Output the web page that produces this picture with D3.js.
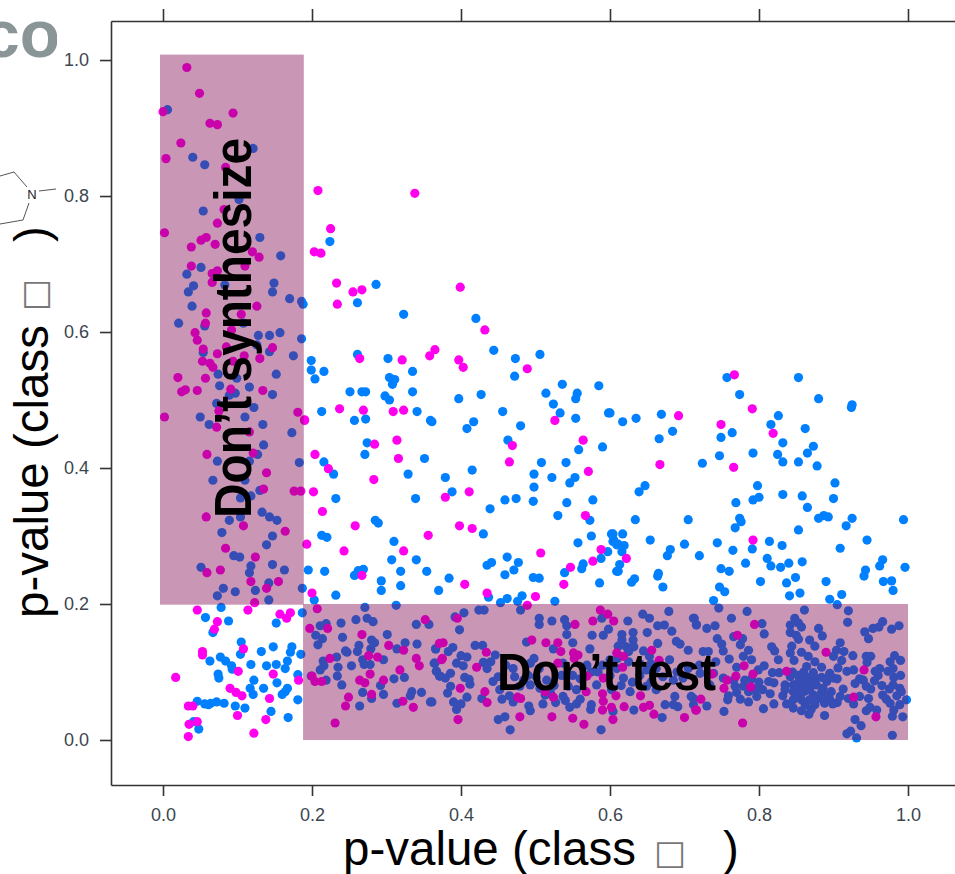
<!DOCTYPE html>
<html>
<head>
<meta charset="utf-8">
<script src="https://cdn.jsdelivr.net/npm/d3@7"></script>
<style>
  body { margin: 0; background: #fff; }
  svg { display: block; font-family: "Liberation Sans", Arial, sans-serif; }
  .tick text { fill: #3c4650; font-size: 18px; }
  .tick line, .domain { stroke: #333; stroke-width: 1.6px; }
</style>
</head>
<body>
<div id="chart"></div>
<script>
var svgWidth = 955;
var svgHeight = 874;

var tickValues = [0, 0.2, 0.4, 0.6, 0.8, 1.0];
var bandSynthesize = { x: [-0.004, 0.189], y: [0.199, 1.008], label: "Don\u2019t synthesize" };
var bandTest = { x: [0.188, 1.0], y: [0, 0.2], label: "Don\u2019t test" };

// points, [p-value x, p-value y]
// blue: upper white area
var blueUpper = [[.224,.733],[.286,.670],[.261,.643],[.323,.626],[.420,.620],[.261,.567],[.302,.561],[.199,.558],[.199,.544],[.216,.542],[.204,.531],[.335,.542],[.444,.573],[.473,.561],[.506,.567],[.472,.535],[.304,.533],[.311,.530],[.308,.523],[.251,.512],[.267,.512],[.272,.512],[.335,.512],[.298,.506],[.304,.500],[.397,.502],[.427,.508],[.213,.483],[.257,.470],[.272,.472],[.341,.483],[.359,.470],[.361,.468],[.417,.468],[.408,.458],[.456,.483],[.480,.462],[.514,.510],[.536,.523],[.556,.510],[.554,.502],[.524,.494],[.533,.481],[.554,.473],[.585,.521],[.598,.481],[.463,.441],[.274,.437],[.271,.420],[.558,.427],[.590,.431],[.351,.414],[.216,.409],[.229,.391],[.508,.408],[.541,.408],[.415,.397],[.329,.391],[.379,.386],[.498,.391],[.522,.386],[.553,.386],[.546,.378],[.498,.372],[.388,.365],[.232,.355],[.339,.355],[.459,.353],[.474,.355],[.497,.351],[.542,.349],[.577,.353],[.439,.340],[.285,.323],[.289,.319],[.530,.330],[.573,.323],[.213,.301],[.220,.298],[.310,.292],[.430,.303],[.557,.290],[.575,.300],[.602,.303],[.604,.292],[.609,.287],[.597,.277],[.462,.269],[.307,.265],[.340,.265],[.441,.261],[.435,.257],[.477,.261],[.588,.267],[.564,.259],[.562,.252],[.195,.250],[.217,.248],[.319,.248],[.354,.248],[.269,.251],[.262,.249],[.257,.242],[.459,.243],[.471,.250],[.539,.246],[.497,.239],[.505,.238],[.384,.238],[.609,.248],[.293,.234],[.319,.227],[.293,.220],[.370,.220],[.586,.231],[.232,.213],[.203,.206],[.437,.210],[.462,.208],[.482,.212],[.526,.204]];
// blue: right part of the upper area
var blueRight = [[.757,.533],[.853,.533],[.774,.508],[.880,.502],[.925,.493],[.924,.489],[.669,.479],[.635,.473],[.617,.468],[.600,.481],[.826,.477],[.816,.464],[.862,.458],[.684,.454],[.666,.443],[.764,.452],[.749,.445],[.832,.437],[.873,.432],[.865,.422],[.825,.420],[.792,.422],[.747,.418],[.832,.409],[.853,.409],[.878,.403],[.724,.407],[.902,.378],[.900,.355],[.798,.374],[.647,.374],[.639,.365],[.832,.361],[.858,.359],[.800,.357],[.792,.353],[.769,.349],[.865,.342],[.634,.324],[.705,.324],[.774,.326],[.776,.321],[.768,.312],[.887,.330],[.880,.326],[.893,.328],[.925,.326],[.917,.315],[.994,.324],[.853,.309],[.617,.303],[.604,.303],[.654,.294],[.945,.294],[.814,.292],[.831,.286],[.744,.290],[.700,.288],[.909,.282],[.791,.281],[.765,.279],[.681,.280],[.677,.271],[.720,.271],[.811,.267],[.782,.260],[.840,.260],[.858,.262],[.816,.256],[.829,.254],[.966,.265],[.962,.256],[.996,.254],[.749,.252],[.760,.248],[.943,.250],[.941,.241],[.665,.245],[.664,.241],[.611,.248],[.613,.258],[.633,.237],[.629,.232],[.849,.239],[.837,.231],[.802,.233],[.890,.233],[.967,.233],[.978,.234],[.980,.220],[.671,.225],[.747,.225],[.754,.218],[.911,.214],[.855,.216],[.841,.212],[.895,.207],[.739,.205],[.605,.294],[.611,.288],[.619,.286],[.616,.277]];
// blue: under the "Don't synthesize" band
var blueSynth = [[.006,.927],[.121,.870],[.040,.857],[.056,.846],[.102,.795],[.054,.778],[.130,.739],[.158,.712],[.051,.695],[.032,.685],[.149,.672],[.041,.668],[.034,.659],[.147,.659],[.083,.669],[.170,.649],[.186,.645],[.188,.641],[.039,.638],[.021,.613],[.056,.609],[.108,.613],[.128,.595],[.143,.595],[.157,.599],[.186,.590],[.126,.581],[.054,.570],[.143,.571],[.175,.565],[.074,.538],[.099,.532],[.152,.538],[.076,.521],[.116,.519],[.097,.510],[.089,.507],[.147,.508],[.072,.495],[.122,.489],[.050,.475],[.110,.475],[.062,.464],[.134,.464],[.173,.452],[.135,.434],[.127,.420],[.116,.410],[.073,.410],[.183,.408],[.067,.382],[.110,.382],[.130,.367],[.118,.359],[.104,.356],[.133,.335],[.143,.328],[.153,.323],[.089,.323],[.104,.328],[.079,.305],[.147,.300],[.139,.287],[.095,.271],[.103,.269],[.147,.258],[.118,.256],[.051,.254],[.163,.250],[.116,.246],[.142,.231],[.081,.223],[.097,.218],[.124,.220],[.187,.223],[.073,.212],[.142,.206]];
// blue: bottom left white corner
var blueCorner = [[.078,.195],[.057,.180],[.088,.175],[.152,.172],[.187,.187],[.067,.158],[.105,.144],[.104,.126],[.132,.130],[.148,.137],[.173,.137],[.171,.129],[.185,.126],[.063,.116],[.077,.122],[.084,.116],[.092,.109],[.093,.104],[.118,.111],[.139,.109],[.152,.111],[.167,.116],[.164,.105],[.074,.097],[.075,.091],[.122,.088],[.181,.096],[.153,.084],[.117,.076],[.135,.076],[.121,.067],[.167,.076],[.164,.071],[.160,.067],[.181,.059],[.046,.057],[.056,.053],[.064,.054],[.072,.056],[.082,.054],[.097,.050],[.110,.047],[.145,.042],[.168,.033],[.048,.016],[.041,.027],[.061,.052]];
// blue: under the "Don't test" band, left to right
var blueTestA = [[.271,.195],[.313,.198],[.211,.168],[.219,.171],[.239,.172],[.259,.177],[.274,.179],[.282,.174],[.340,.170],[.357,.170],[.205,.154],[.214,.149],[.208,.140],[.241,.151],[.301,.155],[.280,.147],[.284,.143],[.263,.139],[.261,.130],[.245,.131],[.247,.129],[.233,.122],[.325,.143],[.314,.134],[.341,.141],[.366,.134],[.279,.134],[.296,.118],[.268,.118],[.215,.116],[.216,.109],[.211,.103],[.235,.107],[.253,.109],[.270,.111],[.278,.111],[.364,.113],[.367,.101],[.371,.094],[.234,.094],[.199,.094],[.219,.088],[.240,.081],[.310,.090],[.324,.092],[.292,.080],[.268,.070],[.296,.067],[.280,.061],[.334,.071],[.332,.065],[.347,.070],[.359,.056],[.314,.054],[.264,.050]];
var blueTestB = [[.453,.202],[.476,.204],[.480,.191],[.404,.187],[.392,.181],[.424,.191],[.431,.191],[.505,.179],[.505,.170],[.522,.175],[.539,.177],[.542,.168],[.542,.155],[.398,.162],[.589,.179],[.598,.163],[.591,.154],[.576,.154],[.624,.175],[.644,.185],[.653,.179],[.679,.189],[.664,.168],[.673,.169],[.683,.160],[.712,.179],[.716,.169],[.650,.158],[.616,.155],[.631,.158],[.616,.147],[.631,.147],[.611,.138],[.622,.137],[.632,.137],[.625,.130],[.645,.131],[.664,.142],[.689,.145],[.694,.141],[.705,.132],[.573,.134],[.550,.143],[.488,.144],[.524,.134],[.419,.139],[.429,.139],[.366,.134],[.389,.136],[.383,.130],[.446,.125],[.400,.124],[.408,.122],[.394,.113],[.403,.109],[.365,.113],[.430,.114],[.435,.105],[.498,.120],[.493,.113],[.367,.101],[.372,.094],[.386,.098],[.379,.091],[.386,.079],[.382,.069],[.405,.092],[.411,.089],[.412,.082],[.408,.063],[.428,.061],[.390,.056],[.400,.053],[.394,.045],[.361,.056],[.450,.093],[.443,.086],[.452,.074],[.472,.093],[.484,.088],[.479,.079],[.493,.081],[.501,.093],[.506,.076],[.515,.088],[.513,.066],[.510,.053],[.470,.056],[.491,.050],[.493,.043],[.527,.055],[.537,.064],[.546,.048],[.555,.053],[.544,.079],[.555,.074],[.537,.113],[.569,.110],[.582,.081],[.584,.100],[.600,.118],[.609,.105],[.618,.091],[.627,.071],[.602,.074],[.575,.052],[.574,.045],[.632,.044],[.604,.042],[.459,.034],[.450,.030],[.466,.015],[.588,.015],[.670,.033],[.674,.052],[.685,.052],[.691,.049],[.653,.123],[.680,.118],[.649,.103],[.662,.105],[.671,.093],[.685,.088],[.698,.091],[.709,.064],[.712,.052],[.649,.079],[.662,.074],[.687,.064],[.640,.112],[.625,.115],[.655,.112],[.690,.100],[.705,.105],[.720,.110],[.610,.120],[.640,.095],[.655,.085],[.630,.085],[.615,.080],[.600,.095],[.590,.110],[.575,.100],[.560,.090],[.550,.095],[.535,.095],[.525,.080],[.520,.070],[.560,.060],[.540,.058],[.490,.095],[.470,.105],[.460,.110],[.440,.115],[.455,.060],[.465,.065],[.505,.105]];
var blueTestC = [[.746,.194],[.905,.199],[.920,.190],[.919,.173],[.861,.191],[.784,.189],[.763,.179],[.713,.179],[.716,.170],[.730,.164],[.741,.168],[.804,.171],[.807,.156],[.766,.152],[.778,.149],[.744,.149],[.750,.141],[.775,.140],[.786,.132],[.752,.131],[.725,.130],[.732,.130],[.779,.123],[.760,.119],[.742,.115],[.790,.118],[.770,.107],[.807,.109],[.817,.137],[.821,.131],[.826,.118],[.842,.169],[.848,.179],[.853,.172],[.857,.166],[.842,.158],[.850,.154],[.853,.148],[.880,.164],[.885,.153],[.868,.147],[.875,.138],[.844,.138],[.842,.128],[.847,.117],[.857,.129],[.866,.123],[.875,.115],[.909,.143],[.904,.132],[.914,.130],[.926,.124],[.900,.123],[.911,.117],[.942,.159],[.947,.149],[.953,.164],[.961,.166],[.966,.174],[.978,.163],[.988,.168],[.944,.123],[.950,.123],[.945,.114],[.976,.115],[.982,.124],[.990,.117],[.962,.105],[.956,.101],[.980,.105],[.973,.101],[.990,.095],[.981,.092],[.955,.087],[.940,.088],[.929,.083],[.944,.079],[.980,.081],[.989,.076],[.991,.071],[.906,.106],[.895,.098],[.884,.107],[.873,.099],[.864,.108],[.875,.091],[.862,.088],[.842,.093],[.818,.099],[.827,.099],[.813,.086],[.820,.084],[.799,.103],[.918,.101],[.927,.103],[.900,.091],[.891,.086],[.835,.081],[.846,.081],[.859,.081],[.868,.074],[.877,.081],[.886,.076],[.835,.074],[.846,.071],[.857,.069],[.913,.075],[.909,.064],[.897,.071],[.888,.066],[.880,.061],[.868,.059],[.857,.059],[.846,.059],[.837,.053],[.846,.047],[.857,.043],[.867,.038],[.875,.052],[.888,.054],[.899,.053],[.888,.036],[.927,.053],[.920,.061],[.935,.064],[.947,.061],[.966,.066],[.971,.060],[.976,.054],[.989,.052],[.981,.044],[.993,.034],[.979,.035],[.944,.043],[.958,.044],[.949,.048],[.929,.030],[.937,.021],[.923,.013],[.918,.009],[.931,.003],[.979,.007],[.998,.059],[.797,.064],[.786,.056],[.806,.046],[.820,.053],[.815,.068],[.792,.074],[.779,.079],[.768,.079],[.797,.076],[.759,.065],[.758,.059],[.730,.050],[.753,.042],[.712,.061],[.805,.074],[.786,.071],[.781,.088],[.766,.088],[.752,.091],[.739,.098],[.721,.098],[.734,.081],[.845,.100],[.853,.095],[.860,.100],[.868,.092],[.875,.084],[.853,.085],[.866,.083],[.884,.092],[.893,.092],[.905,.090],[.852,.075],[.862,.072],[.873,.066],[.884,.070],[.895,.060],[.905,.055],[.832,.065],[.850,.064],[.862,.052],[.870,.045],[.800,.085],[.790,.090],[.770,.070],[.775,.060],[.935,.090],[.965,.080],[.975,.075],[.985,.065],[.960,.095],[.950,.075]];
// magenta: upper white area
var magentaUpper = [[.208,.808],[.338,.804],[.225,.752],[.203,.718],[.212,.716],[.233,.672],[.255,.659],[.267,.662],[.399,.666],[.234,.641],[.432,.603],[.264,.561],[.321,.559],[.358,.565],[.365,.574],[.397,.559],[.403,.548],[.489,.546],[.237,.487],[.269,.485],[.309,.483],[.323,.485],[.526,.470],[.190,.471],[.284,.435],[.314,.441],[.469,.433],[.564,.441],[.204,.420],[.222,.399],[.316,.414],[.465,.409],[.283,.383],[.571,.395],[.202,.365],[.379,.357],[.411,.365],[.214,.336],[.567,.330],[.258,.315],[.398,.315],[.415,.311],[.356,.301],[.193,.288],[.243,.278],[.323,.278],[.507,.275],[.588,.280],[.577,.263],[.547,.254],[.267,.242],[.405,.229],[.538,.229],[.200,.216],[.435,.216],[.500,.211]];
var magentaRight = [[.767,.537],[.692,.477],[.791,.487],[.749,.464],[.819,.451],[.667,.405],[.766,.401],[.792,.294],[.622,.267]];
var magentaSynth = [[.032,.989],[.049,.951],[.000,.924],[.094,.922],[.063,.907],[.073,.905],[.024,.878],[.004,.855],[.084,.842],[.082,.780],[.073,.760],[.002,.746],[.038,.725],[.051,.735],[.058,.739],[.070,.729],[.120,.718],[.129,.710],[.038,.697],[.110,.697],[.066,.686],[.073,.690],[.066,.673],[.126,.638],[.058,.628],[.105,.626],[.057,.613],[.043,.599],[.046,.588],[.092,.603],[.054,.575],[.073,.568],[.085,.578],[.109,.565],[.147,.577],[.130,.561],[.053,.557],[.063,.554],[.067,.548],[.094,.557],[.020,.533],[.057,.532],[.025,.512],[.030,.515],[.046,.514],[.091,.516],[.134,.514],[.075,.484],[.002,.475],[.181,.482],[.190,.470],[.072,.460],[.116,.453],[.059,.420],[.121,.422],[.139,.393],[.135,.369],[.176,.366],[.185,.366],[.058,.328],[.108,.315],[.164,.307],[.084,.282],[.124,.269],[.077,.250],[.059,.246],[.118,.233],[.155,.233],[.139,.223],[.123,.202]];
var magentaCorner = [[.046,.191],[.073,.174],[.069,.163],[.114,.191],[.157,.185],[.166,.179],[.171,.187],[.108,.134],[.053,.130],[.053,.125],[.101,.101],[.148,.097],[.017,.092],[.182,.088],[.090,.076],[.098,.070],[.106,.065],[.143,.061],[.034,.050],[.040,.050],[.100,.036],[.138,.030],[.046,.027],[.035,.023],[.122,.010],[.034,.005]];
var magentaTest = [[.207,.193],[.352,.177],[.197,.164],[.221,.164],[.267,.155],[.303,.139],[.323,.132],[.224,.120],[.276,.124],[.288,.122],[.340,.120],[.344,.109],[.318,.103],[.278,.097],[.200,.094],[.204,.086],[.213,.086],[.264,.088],[.271,.084],[.296,.088],[.280,.067],[.249,.063],[.245,.050],[.322,.057],[.336,.048],[.231,.025],[.371,.142],[.374,.118],[.395,.179],[.489,.198],[.587,.191],[.597,.185],[.605,.175],[.577,.175],[.553,.170],[.376,.143],[.495,.147],[.514,.143],[.530,.143],[.534,.130],[.434,.129],[.375,.120],[.421,.107],[.551,.128],[.557,.125],[.552,.120],[.530,.113],[.609,.128],[.618,.123],[.617,.107],[.656,.132],[.666,.117],[.399,.076],[.432,.071],[.435,.055],[.476,.063],[.480,.061],[.524,.063],[.513,.071],[.568,.071],[.590,.068],[.608,.065],[.641,.065],[.591,.057],[.590,.044],[.602,.048],[.619,.049],[.645,.048],[.653,.051],[.659,.038],[.396,.030],[.479,.034],[.522,.034],[.550,.032],[.565,.023],[.604,.030],[.700,.033],[.715,.044],[.591,.091],[.569,.094],[.794,.170],[.771,.154],[.890,.129],[.780,.109],[.769,.094],[.792,.097],[.757,.088],[.753,.076],[.789,.078],[.837,.101],[.941,.103],[.927,.063],[.722,.060],[.716,.044],[.778,.025],[.957,.034],[.737,.097]];

var blueGroups = [blueUpper, blueRight, blueSynth, blueCorner, blueTestA, blueTestB, blueTestC];
var magentaGroups = [magentaUpper, magentaRight, magentaSynth, magentaCorner, magentaTest];

var svg = d3.select("#chart")
  .append("svg")
  .attr("width", svgWidth)
  .attr("height", svgHeight);

// frame runs off the right edge of the picture
var xScale = d3.scaleLinear().domain([-0.0698, 1.0631]).range([111, 955]);
var yScale = d3.scaleLinear().domain([-0.0662, 1.0574]).range([785, 21]);

var bottomAxis = d3.axisBottom(xScale).tickValues(tickValues).tickFormat(d3.format(".1f")).tickSizeInner(11).tickSizeOuter(0).tickPadding(12);
var topAxis = d3.axisTop(xScale).tickValues(tickValues).tickFormat("").tickSizeInner(12).tickSizeOuter(0);
var leftAxis = d3.axisLeft(yScale).tickValues(tickValues).tickFormat(d3.format(".1f")).tickSizeInner(11).tickSizeOuter(0).tickPadding(11);

svg.append("g").attr("transform", "translate(0,785)").call(bottomAxis);
svg.append("g").attr("transform", "translate(0,21)").call(topAxis);
svg.append("g").attr("transform", "translate(111,0)").call(leftAxis);

// points
svg.append("g").selectAll("circle")
  .data(d3.merge(blueGroups))
  .enter()
  .append("circle")
  .attr("cx", d => xScale(d[0]))
  .attr("cy", d => yScale(d[1]))
  .attr("r", 4.6)
  .attr("fill", "#0080ff");

svg.append("g").selectAll("circle")
  .data(d3.merge(magentaGroups))
  .enter()
  .append("circle")
  .attr("cx", d => xScale(d[0]))
  .attr("cy", d => yScale(d[1]))
  .attr("r", 4.6)
  .attr("fill", "#ff00ee");

// shaded regions sit over the points
svg.append("g").selectAll("rect")
  .data([bandSynthesize, bandTest])
  .enter()
  .append("rect")
  .attr("x", d => xScale(d.x[0]))
  .attr("y", d => yScale(d.y[1]))
  .attr("width", d => xScale(d.x[1]) - xScale(d.x[0]))
  .attr("height", d => yScale(d.y[0]) - yScale(d.y[1]))
  .attr("fill", "rgb(126,7,79)")
  .attr("fill-opacity", 0.42);

svg.append("text")
  .attr("transform", "translate(251,518) rotate(-90)")
  .attr("font-size", 51)
  .attr("font-weight", "bold")
  .attr("textLength", 380)
  .attr("lengthAdjust", "spacingAndGlyphs")
  .text(bandSynthesize.label);

svg.append("text")
  .attr("x", 497)
  .attr("y", 690)
  .attr("font-size", 51)
  .attr("font-weight", "bold")
  .attr("textLength", 219)
  .attr("lengthAdjust", "spacingAndGlyphs")
  .text(bandTest.label);

// axis titles
svg.append("text")
  .attr("x", 343)
  .attr("y", 865)
  .attr("font-size", 47.5)
  .text("p-value (class");

svg.append("text")
  .attr("x", 654)
  .attr("y", 864)
  .attr("font-size", 34)
  .attr("font-family", "DejaVu Sans")
  .attr("fill", "#777")
  .text("\u25A1");

svg.append("text")
  .attr("x", 723)
  .attr("y", 865)
  .attr("font-size", 47.5)
  .text(")");

svg.append("text")
  .attr("transform", "translate(48,618) rotate(-90)")
  .attr("font-size", 47.5)
  .text("p-value (class");

svg.append("text")
  .attr("transform", "translate(46,311) rotate(-90)")
  .attr("font-size", 34)
  .attr("font-family", "DejaVu Sans")
  .attr("fill", "#777")
  .text("\u25A1");

svg.append("text")
  .attr("transform", "translate(48,242) rotate(-90)")
  .attr("font-size", 47.5)
  .text(")");

// pieces of the slide behind the chart
svg.append("clipPath").attr("id", "left-clip")
  .append("rect").attr("x", 0).attr("y", 0).attr("width", 57).attr("height", 100);

svg.append("text")
  .attr("x", 60)
  .attr("y", 57)
  .attr("text-anchor", "end")
  .attr("clip-path", "url(#left-clip)")
  .attr("font-size", 66)
  .attr("font-weight", "bold")
  .attr("fill", "#8a9597")
  .text("co");

svg.append("path")
  .attr("d", "M0,176L14,172L27,187M39,191L56,189M29,203L23,220L0,224")
  .attr("fill", "none")
  .attr("stroke", "#555")
  .attr("stroke-width", 1);

svg.append("text")
  .attr("x", 32)
  .attr("y", 199)
  .attr("text-anchor", "middle")
  .attr("font-size", 13)
  .attr("fill", "#222")
  .text("N");
</script>
</body>
</html>
